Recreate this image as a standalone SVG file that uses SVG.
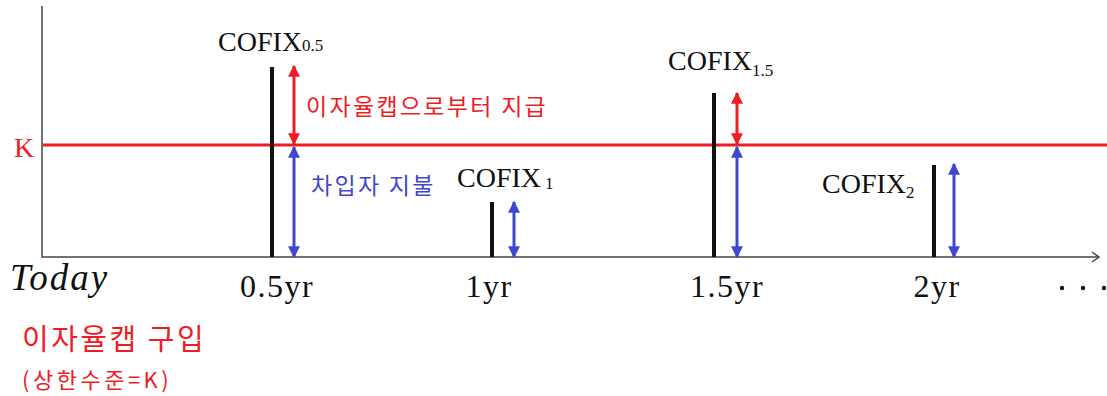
<svg xmlns="http://www.w3.org/2000/svg" width="1107" height="396" viewBox="0 0 1107 396">
<defs>
<style>
.axis{stroke:#444;stroke-width:1.5;fill:none}
.bar{stroke:#111;stroke-width:4}
.red{stroke:#ee1c25;stroke-width:3}
.blue{stroke:#3f48cc;stroke-width:3}
.tnr{font-family:"Liberation Serif","Times New Roman",serif;fill:#111}
.yr{font-size:32px;letter-spacing:1.5px}
.ko{font-family:"Noto Sans CJK KR","Noto Sans",sans-serif}
</style>
<marker id="ar" viewBox="0 0 10 10" refX="9" refY="5" markerWidth="4" markerHeight="4" orient="auto-start-reverse" markerUnits="strokeWidth"><path d="M0,0 L10,5 L0,10 Z" fill="#ee1c25"/></marker>
<marker id="ab" viewBox="0 0 10 10" refX="9" refY="5" markerWidth="4" markerHeight="4" orient="auto-start-reverse" markerUnits="strokeWidth"><path d="M0,0 L10,5 L0,10 Z" fill="#3f48cc"/></marker>
</defs>
<g id="axes">
<path class="axis" d="M42,6 V257 H1099"/>
<path class="axis" d="M1092,252 L1099,257 L1092,262"/>
</g>
<g id="k-line">
<line class="red" x1="43" y1="145" x2="1107" y2="145"/>
<text x="14" y="157" class="tnr" font-size="28" style="fill:#ee1c25">K</text>
</g>
<g id="bars">
<line class="bar" x1="272" y1="67" x2="272" y2="257"/>
<line class="bar" x1="492" y1="202" x2="492" y2="257"/>
<line class="bar" x1="714" y1="93" x2="714" y2="257"/>
<line class="bar" x1="934" y1="165" x2="934" y2="257"/>
</g>
<g id="connectors">
<line class="red" x1="294" y1="66" x2="294" y2="144" marker-start="url(#ar)" marker-end="url(#ar)"/>
<line class="red" x1="737" y1="93" x2="737" y2="144" marker-start="url(#ar)" marker-end="url(#ar)"/>
<line class="blue" x1="294" y1="147" x2="294" y2="257" marker-start="url(#ab)" marker-end="url(#ab)"/>
<line class="blue" x1="514" y1="202" x2="514" y2="257" marker-start="url(#ab)" marker-end="url(#ab)"/>
<line class="blue" x1="737" y1="147" x2="737" y2="257" marker-start="url(#ab)" marker-end="url(#ab)"/>
<line class="blue" x1="954" y1="164" x2="954" y2="257" marker-start="url(#ab)" marker-end="url(#ab)"/>
</g>
<g id="labels">
<text x="218" y="51" class="tnr" font-size="28">COFIX<tspan font-size="17">0.5</tspan></text>
<text x="668" y="70" class="tnr" font-size="28">COFIX<tspan font-size="17" dy="6">1.5</tspan></text>
<text x="457" y="187" class="tnr" font-size="28">COFIX<tspan font-size="17" dy="2" dx="4">1</tspan></text>
<text x="822" y="193" class="tnr" font-size="28">COFIX<tspan font-size="17" dy="5">2</tspan></text>
<text x="306" y="115" class="ko" font-size="23" letter-spacing="2.3" fill="#ee1c25">이자율캡으로부터 지급</text>
<text x="311" y="194" class="ko" font-size="23" letter-spacing="2.3" fill="#3f48cc">차입자 지불</text>
</g>
<g id="ticks">
<text x="10" y="290" class="tnr" font-size="37" font-style="italic" letter-spacing="2">Today</text>
<text x="277" y="297" class="tnr yr" text-anchor="middle">0.5yr</text>
<text x="489" y="297" class="tnr yr" text-anchor="middle">1yr</text>
<text x="727" y="297" class="tnr yr" text-anchor="middle">1.5yr</text>
<text x="937" y="297" class="tnr yr" text-anchor="middle">2yr</text>
<circle cx="1062" cy="288" r="2.2" fill="#111"/>
<circle cx="1083" cy="288" r="2.2" fill="#111"/>
<circle cx="1104" cy="288" r="2.2" fill="#111"/>
</g>
<g id="note">
<text x="22" y="350" class="ko" font-size="29" letter-spacing="2.5" fill="#ee1c25">이자율캡 구입</text>
<text x="22" y="388" class="ko" font-size="22" letter-spacing="3.5" fill="#ee1c25">(상한수준=K)</text>
</g>
</svg>
